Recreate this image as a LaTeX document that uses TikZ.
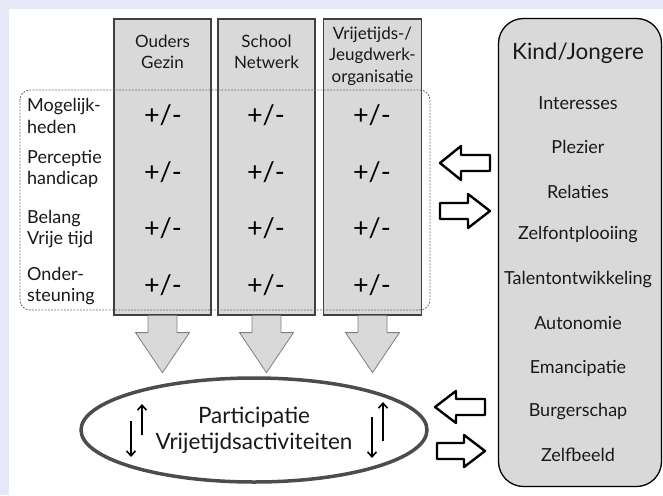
\documentclass[tikz,border=0pt]{standalone}
\usepackage{fontspec}
\setmainfont{Lato}
\usetikzlibrary{arrows.meta,calc,shapes.geometric}
\definecolor{bgblue}{HTML}{E6E9F5}
\definecolor{boxgray}{HTML}{D9D9D9}
\begin{document}
\begin{tikzpicture}[x=1pt,y=-1pt,
  colbox/.style={draw=black!75, line width=1.2pt, fill=boxgray, minimum width=97pt, minimum height=296pt, inner sep=0pt},
  hdr/.style={font=\fontsize{17}{21.5}\selectfont, align=center, text=black!90, inner sep=0pt},
  pm/.style={font=\fontsize{27}{27}\selectfont, inner sep=0pt},
  lbl/.style={font=\fontsize{18}{21.5}\selectfont, align=left, anchor=west, inner sep=0pt, text=black!90},
  item/.style={font=\fontsize{18}{20}\selectfont, inner sep=0pt, text=black!90},
  blockarrow/.style={draw=black, line width=2.4pt, fill=white, line join=round},
  downarrow/.style={draw=black!50, line width=0.8pt, fill=boxgray},
  smallarrow/.style={line width=1.6pt, -{Straight Barb[length=5pt,width=9pt]}}
]
\useasboundingbox (0,0) rectangle (663,495);
\fill[bgblue] (0,0) rectangle (663,495);
\fill[white] (9,9) rectangle (663,495);

% columns
\node[colbox] (c1) at (162.5,167) {};
\node[colbox] (c2) at (266.5,167) {};
\node[colbox, minimum width=98pt] (c3) at (372.5,167) {};

% headers
\node[hdr] (h1) at (162.5,52) {Ouders\\Gezin};
\node[hdr] (h2) at (266.5,52) {School\\Netwerk};
\node[hdr] (h3) at (372.5,56) {Vrijetijds-/\\Jeugdwerk-\\organisatie};

% dotted frame
\draw[black!60, line width=0.8pt, dash pattern=on 1.8pt off 1.4pt, rounded corners=10pt] (20,90) rectangle (430,310);

% row labels
\node[lbl] (l1) at (27,116) {Mogelijk-\\heden};
\node[lbl] (l2) at (27,169) {Perceptie\\handicap};
\node[lbl] (l3) at (27,229) {Belang\\Vrije tijd};
\node[lbl] (l4) at (27,286) {Onder-\\steuning};

% +/- entries
\foreach \r/\yy in {1/115,2/172,3/228,4/285}{
  \node[pm] (p1\r) at (163,\yy) {+/-};
  \node[pm] (p2\r) at (266,\yy) {+/-};
  \node[pm] (p3\r) at (372,\yy) {+/-};
}

% ellipse
\node[ellipse, draw=black!70, line width=3.5pt, fill=white, minimum width=346pt, minimum height=104pt,
      font=\fontsize{22.5}{26}\selectfont, align=center, text=black!90, inner sep=0pt] (part) at (254,430) {Participatie\\Vrijetijdsactiviteiten};

% down block arrows
\foreach \c in {c1,c2,c3}{
  \draw[downarrow] ($(\c.south)+(-14.5,0)$) -- ++(0,17) -- ++(-12.5,0) -- ($(\c.south)+(0,57)$)
     -- ($(\c.south)+(27,17)$) -- ++(-12.5,0) -- ($(\c.south)+(14.5,0)$);
}

% small arrows inside ellipse
\coordinate (a1s) at (142,435); \coordinate (a1e) at (142,404);
\coordinate (a2s) at (131,421); \coordinate (a2e) at (131,457);
\coordinate (a3s) at (383,441); \coordinate (a3e) at (383,402);
\coordinate (a4s) at (372,417); \coordinate (a4e) at (372,458);
\draw[smallarrow] (a1s) -- (a1e);
\draw[smallarrow] (a2s) -- (a2e);
\draw[smallarrow] (a3s) -- (a3e);
\draw[smallarrow] (a4s) -- (a4e);

% right box
\node[draw=black, line width=1.3pt, fill=boxgray, rounded corners=25pt, minimum width=163pt, minimum height=468pt, inner sep=0pt] (kind) at (580,252.5) {};
\node[item, font=\fontsize{22.5}{24}\selectfont] (kt) at (578,53) {Kind/Jongere};
\foreach \t/\yy [count=\i] in {Interesses/103,Plezier/147,Relaties/192,Zelfontplooiing/235,Talentontwikkeling/280,Autonomie/323,Emancipatie/368,Burgerschap/412,Zelfbeeld/455}{
  \node[item] (k\i) at (578,\yy) {\t};
}

% hollow block arrows
\draw[blockarrow] (440,163) -- (461,146) -- (461,155) -- (490,155) -- (490,171) -- (461,171) -- (461,180) -- cycle;
\draw[blockarrow] (440,203) -- (468,203) -- (468,194) -- (490,211) -- (468,228) -- (468,219) -- (440,219) -- cycle;
\draw[blockarrow] (435,407) -- (456,391) -- (456,399) -- (485,399) -- (485,415) -- (456,415) -- (456,423) -- cycle;
\draw[blockarrow] (437,443) -- (464,443) -- (464,435) -- (485,451) -- (464,467) -- (464,459) -- (437,459) -- cycle;
\end{tikzpicture}
\end{document}
